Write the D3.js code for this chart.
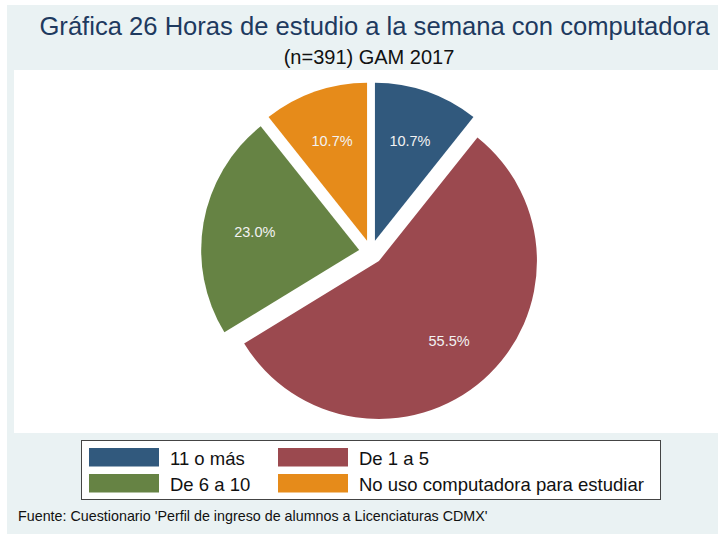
<!DOCTYPE html>
<html lang="es">
<head>
  <meta charset="UTF-8">
  <title>Gráfica 26</title>
  <style>
    body { margin: 0; background: #fff; }
  </style>
</head>
<body>
  <script src="https://cdn.jsdelivr.net/npm/d3@7"></script>
  <script>
    const categories = ["11 o más", "De 1 a 5", "De 6 a 10", "No uso computadora para estudiar"];
    const values = [10.7, 55.5, 23.0, 10.7];
    const colors = ["#31597d", "#9b494f", "#668344", "#e68b1a"];

    const [width, height] = [720, 534];
    const font = "'Liberation Sans', Arial, sans-serif";
    const center = { x: 371, y: 252 };
    const radius = 158;
    const explode = 12;
    const labelDist = 118;

    const svg = d3.select(document.body)
      .append("svg")
      .attr("width", width)
      .attr("height", height)
      .attr("font-family", font);

    // background + plot region
    svg.append("rect").attr("width", width).attr("height", height).attr("fill", "#fff");
    svg.append("rect").attr("x", 7).attr("y", 5).attr("width", width - 9).attr("height", height - 5).attr("fill", "#eaf2f3");
    svg.append("rect").attr("x", 14).attr("y", 70).attr("width", width - 14).attr("height", 363).attr("fill", "#fff");

    svg.append("text")
      .attr("x", 374.5).attr("y", 35)
      .attr("text-anchor", "middle")
      .attr("font-size", 25.6)
      .attr("fill", "#1e3a5f")
      .text("Gráfica 26 Horas de estudio a la semana con computadora");

    svg.append("text")
      .attr("x", 369).attr("y", 64)
      .attr("text-anchor", "middle")
      .attr("font-size", 20)
      .attr("fill", "#111")
      .text("(n=391) GAM 2017");

    const pie = d3.pie().sort(null).value(d => d.value);
    const arcs = pie(categories.map((c, i) => ({ name: c, value: values[i], color: colors[i] })));
    const arc = d3.arc().innerRadius(0).outerRadius(radius);

    const offset = (d, dist) => {
      const a = (d.startAngle + d.endAngle) / 2;
      return [Math.sin(a) * dist, -Math.cos(a) * dist];
    };

    const slices = svg.append("g")
      .attr("transform", `translate(${center.x},${center.y})`)
      .selectAll("g")
      .data(arcs)
      .join("g")
      .attr("transform", d => `translate(${offset(d, explode)})`);

    slices.append("path")
      .attr("d", arc)
      .attr("fill", d => d.data.color);

    slices.append("text")
      .attr("transform", d => `translate(${offset(d, labelDist - explode)})`)
      .attr("text-anchor", "middle")
      .attr("dy", "0.35em")
      .attr("font-size", 14.5)
      .attr("fill", "#f2f2f2")
      .text(d => d3.format(".1f")(d.data.value) + "%");

    // legend
    const legend = svg.append("g");
    legend.append("rect")
      .attr("x", 81.5).attr("y", 440.5).attr("width", 579).attr("height", 59)
      .attr("fill", "#fff").attr("stroke", "#444").attr("stroke-width", 1);

    const colX = [89, 278];
    const rowY = [448, 474];
    const item = legend.selectAll("g.item")
      .data(categories)
      .join("g")
      .attr("class", "item")
      .attr("transform", (d, i) => `translate(${colX[i % 2]},${rowY[Math.floor(i / 2)]})`);

    item.append("rect")
      .attr("width", 70).attr("height", 18.5)
      .attr("fill", (d, i) => colors[i]);

    item.append("text")
      .attr("x", 81).attr("y", 17)
      .attr("font-size", 18.5)
      .attr("fill", "#111")
      .text(d => d);

    svg.append("text")
      .attr("x", 18).attr("y", 521)
      .attr("font-size", 14.3)
      .attr("fill", "#111")
      .text("Fuente: Cuestionario 'Perfil de ingreso de alumnos a Licenciaturas CDMX'");
  </script>
</body>
</html>
